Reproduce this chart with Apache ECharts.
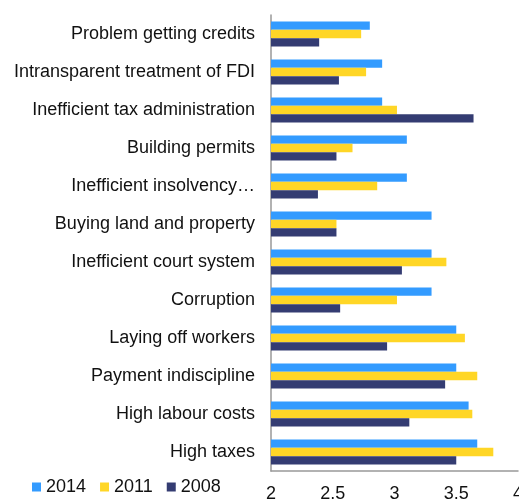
<!DOCTYPE html>
<html>
<head>
<meta charset="utf-8">
<script src="https://cdn.jsdelivr.net/npm/echarts@6/dist/echarts.min.js"></script>
<style>html,body{margin:0;padding:0;background:#fff}#c{width:519px;height:501px}</style>
</head>
<body>
<div id="c"></div>
<script>
const categories = ["Problem getting credits","Intransparent treatment of FDI","Inefficient tax administration","Building permits","Inefficient insolvency…","Buying land and property","Inefficient court system","Corruption","Laying off workers","Payment indiscipline","High labour costs","High taxes"];
const s2014 = [2.80,2.90,2.90,3.10,3.10,3.30,3.30,3.30,3.50,3.50,3.60,3.67];
const s2011 = [2.73,2.77,3.02,2.66,2.86,2.53,3.42,3.02,3.57,3.67,3.63,3.80];
const s2008 = [2.39,2.55,3.64,2.53,2.38,2.53,3.06,2.56,2.94,3.41,3.12,3.50];
const seriesNames = ["2014","2011","2008"];
const colors = ["#339BFF","#FFD626","#343C72"];
const xTicks = {min:2, max:4, interval:0.5};

const font = "Liberation Sans, Arial, sans-serif";
const chart = echarts.init(document.getElementById('c'), null, {renderer:'canvas'});
const data = [s2014, s2011, s2008];
chart.setOption({
  animation:false,
  textStyle:{fontFamily:font},
  grid:{left:271,right:1,top:15,bottom:30,containLabel:false,outerBoundsMode:'none'},
  legend:{
    left:32, top:478, padding:0, itemWidth:9, itemHeight:9, itemGap:14,
    icon:'rect',
    textStyle:{fontSize:18,color:'#111',fontFamily:font},
    data:seriesNames
  },
  xAxis:{
    type:'value', min:xTicks.min, max:xTicks.max, interval:xTicks.interval,
    axisLine:{show:true,lineStyle:{color:'#999',width:1.5}},
    axisTick:{show:false},
    splitLine:{show:false},
    axisLabel:{fontSize:18,color:'#111',margin:14,fontFamily:font,hideOverlap:false}
  },
  yAxis:{
    type:'category', data:categories, inverse:true,
    axisLine:{show:true,lineStyle:{color:'#999',width:1.5}},
    axisTick:{show:false},
    axisLabel:{fontSize:18,color:'#111',margin:16,fontFamily:font}
  },
  series:seriesNames.map((n,i)=>({
    name:n, type:'bar', data:data[i],
    barGap:'0%', barCategoryGap:'34%',
    itemStyle:{color:colors[i]}
  }))
});
</script>
</body>
</html>
